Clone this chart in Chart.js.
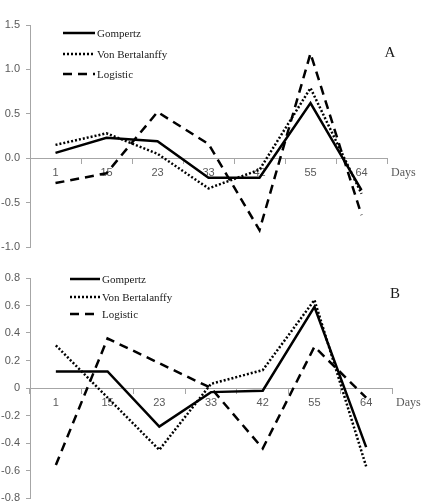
<!DOCTYPE html>
<html>
<head>
<meta charset="utf-8">
<script src="https://cdn.jsdelivr.net/npm/chart.js@4.4.1/dist/chart.umd.min.js"></script>
<style>
  html, body { margin: 0; padding: 0; background: #fff; overflow: hidden; }
  .panel { position: absolute; left: 0; }
</style>
</head>
<body>
<div class="panel" style="top:0"><canvas id="chartA" width="434" height="252"></canvas></div>
<div class="panel" style="top:252px"><canvas id="chartB" width="434" height="251"></canvas></div>
<script>
const days = ["1", "15", "23", "33", "42", "55", "64"]
const seriesNames = ["Gompertz", "Von Bertalanffy", "Logistic"]

const gompertzA = [0.06, 0.23, 0.19, -0.22, -0.22, 0.62, -0.36]
const bertalanffyA = [0.15, 0.28, 0.05, -0.34, -0.13, 0.79, -0.40]
const logisticA = [-0.28, -0.17, 0.52, 0.16, -0.81, 1.18, -0.64]
const yTicksA = [-1.0, -0.5, 0, 0.5, 1.0, 1.5]

const gompertzB = [0.12, 0.12, -0.28, -0.03, -0.02, 0.59, -0.43]
const bertalanffyB = [0.31, -0.07, -0.45, 0.03, 0.13, 0.64, -0.57]
const logisticB = [-0.56, 0.36, 0.18, 0.0, -0.44, 0.30, -0.07]
const yTicksB = [-0.8, -0.6, -0.4, -0.2, 0, 0.2, 0.4, 0.6, 0.8]

const axisGray = "#a6a6a6"
const tickColor = "#595959"
const dashes = [[], [2, 2], [9, 6]]

// legend, panel letter and "Days" label drawn on the canvas
const annotations = {
  id: "annotations",
  afterDraw(chart, args, opts) {
    const ctx = chart.ctx
    ctx.save()
    chart.data.datasets.forEach((ds, i) => {
      const y = opts.legendY[i]
      ctx.strokeStyle = "#000"
      ctx.lineWidth = 2.5
      ctx.setLineDash(ds.borderDash || [])
      ctx.beginPath()
      ctx.moveTo(opts.legendX[0], y)
      ctx.lineTo(opts.legendX[1], y)
      ctx.stroke()
      ctx.setLineDash([])
      ctx.fillStyle = "#1a1a1a"
      ctx.font = "11px 'Liberation Serif'"
      ctx.textBaseline = "middle"
      ctx.textAlign = "left"
      ctx.fillText(ds.label, opts.legendX[1] + 2, y + 1)
    })
    ctx.font = "15px 'Liberation Serif'"
    ctx.fillStyle = "#1a1a1a"
    ctx.textAlign = "center"
    ctx.fillText(opts.letter, opts.letterPos[0], opts.letterPos[1])

    const x = chart.scales.x
    const y0 = chart.scales.y.getPixelForValue(0)
    ctx.font = "12px 'Liberation Serif'"
    ctx.fillStyle = tickColor
    ctx.textAlign = "left"
    ctx.fillText("Days", x.right + 4, y0 + 15)
    ctx.restore()
  }
}

function makeChart(id, g, b, l, yTicks, opts) {
  const ctx = document.getElementById(id).getContext("2d")
  const values = [g, b, l]
  return new Chart(ctx, {
    type: "line",
    data: {
      labels: days,
      datasets: seriesNames.map((name, i) => ({
        label: name,
        data: values[i],
        borderColor: "#000",
        borderWidth: 2.5,
        borderDash: dashes[i],
        pointRadius: 0,
        tension: 0,
        fill: false
      }))
    },
    options: {
      responsive: false,
      devicePixelRatio: 1,
      animation: false,
      layout: { padding: opts.padding },
      plugins: {
        legend: { display: false },
        tooltip: { enabled: false },
        annotations: opts.ann
      },
      scales: {
        x: {
          position: { y: 0 },
          offset: true,
          grid: { display: true, offset: true, drawOnChartArea: false, drawTicks: true, tickLength: 5, color: axisGray },
          border: { display: true, color: axisGray, width: 1 },
          ticks: { color: tickColor, font: { family: "'Liberation Sans'", size: 11 }, padding: 3, maxRotation: 0, autoSkip: false },
          afterFit(scale) {
            scale.paddingLeft = 0
            scale.paddingRight = 0
          }
        },
        y: {
          min: yTicks[0],
          max: yTicks[yTicks.length - 1],
          afterBuildTicks(scale) {
            scale.ticks = yTicks.map(v => ({ value: v }))
          },
          grid: { display: true, drawOnChartArea: false, drawTicks: true, tickLength: 4, color: axisGray },
          border: { display: true, color: axisGray, width: 1 },
          ticks: {
            color: tickColor,
            font: { family: "'Liberation Sans'", size: 11 },
            padding: 6,
            callback: opts.fmt
          },
          afterFit(scale) {
            scale.width = 30
            scale.paddingTop = 0
            scale.paddingBottom = 0
          }
        }
      }
    },
    plugins: [annotations]
  })
}

makeChart("chartA", gompertzA, bertalanffyA, logisticA, yTicksA, {
  padding: { top: 25, bottom: 5, left: 0, right: 47 },
  fmt: v => v.toFixed(1),
  ann: { legendX: [63, 95], legendY: [33, 54, 74], letter: "A", letterPos: [390, 53] }
})

makeChart("chartB", gompertzB, bertalanffyB, logisticB, yTicksB, {
  padding: { top: 26, bottom: 5, left: 0, right: 42 },
  fmt: v => (v === 0 ? "0" : v.toFixed(1)),
  ann: { legendX: [70, 100], legendY: [27, 45, 62], letter: "B", letterPos: [395, 42] }
})
</script>
</body>
</html>
